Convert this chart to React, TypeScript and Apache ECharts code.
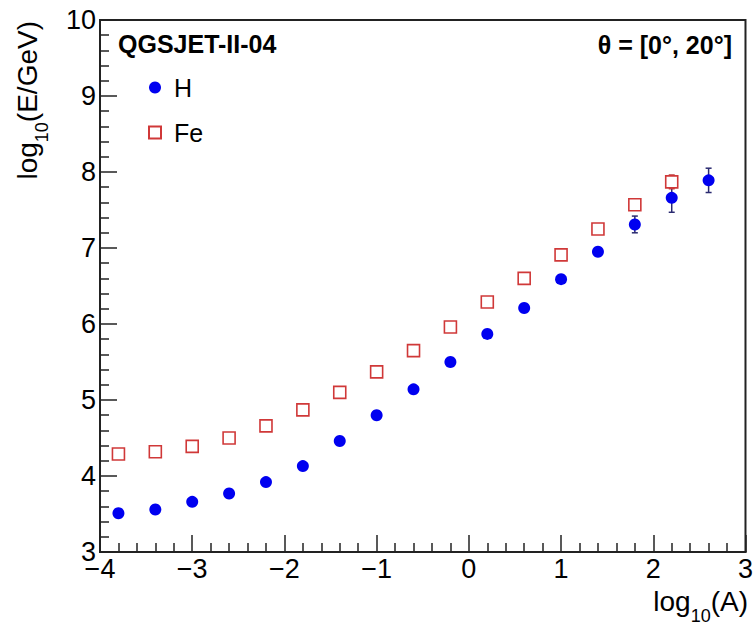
import React, { useEffect, useRef } from "react";
import * as echarts from "echarts";

const FONT = "'Liberation Sans', Arial, Helvetica, sans-serif";

// log10(A) positions of the points
const xValues = [-3.8, -3.4, -3.0, -2.6, -2.2, -1.8, -1.4, -1.0, -0.6, -0.2, 0.2, 0.6, 1.0, 1.4, 1.8, 2.2, 2.6];
// H (proton) series: log10(E/GeV)
const hValues = [3.51, 3.56, 3.66, 3.77, 3.92, 4.13, 4.46, 4.8, 5.14, 5.5, 5.87, 6.21, 6.59, 6.95, 7.31, 7.66, 7.89];
const hErrors = [0.01, 0.01, 0.01, 0.01, 0.01, 0.01, 0.01, 0.01, 0.01, 0.02, 0.02, 0.02, 0.03, 0.05, 0.11, 0.19, 0.16];
// Fe (iron) series
const feValues = [4.29, 4.32, 4.39, 4.5, 4.66, 4.87, 5.1, 5.37, 5.65, 5.96, 6.29, 6.6, 6.91, 7.25, 7.57, 7.87];
const feErrors = [0.01, 0.01, 0.01, 0.01, 0.01, 0.01, 0.01, 0.01, 0.01, 0.01, 0.01, 0.02, 0.02, 0.02, 0.04, 0.09];

const seriesNames = ["H", "Fe"];
const H_COLOR = "#0000f0";
const FE_COLOR = "#d03838";

function errorBarSeries(name: string, values: number[], errors: number[], color: string) {
  return {
    type: "custom",
    name,
    z: 1,
    silent: true,
    renderItem: (params: any, api: any) => {
      const x = api.value(0);
      const lo = api.coord([x, api.value(1)]);
      const hi = api.coord([x, api.value(2)]);
      const cap = 3;
      const style = { stroke: color, lineWidth: 1.5 };
      return {
        type: "group",
        children: [
          { type: "line", shape: { x1: lo[0], y1: lo[1], x2: hi[0], y2: hi[1] }, style },
          { type: "line", shape: { x1: lo[0] - cap, y1: lo[1], x2: lo[0] + cap, y2: lo[1] }, style },
          { type: "line", shape: { x1: hi[0] - cap, y1: hi[1], x2: hi[0] + cap, y2: hi[1] }, style },
        ],
      };
    },
    encode: { x: 0, y: [1, 2] },
    data: values.map((v, i) => [xValues[i], v - errors[i], v + errors[i]]),
  };
}

export default function App() {
  const ref = useRef<HTMLDivElement>(null);

  useEffect(() => {
    if (!ref.current) return;
    const chart = echarts.init(ref.current, undefined, { renderer: "svg" });

    const subRich = {
      a: { fontSize: 28, lineHeight: 48, fontFamily: FONT, fill: "#000" },
      s: { fontSize: 18, lineHeight: 18, fontFamily: FONT, fill: "#000", verticalAlign: "bottom" },
    };

    chart.setOption({
      animation: false,
      backgroundColor: "#fff",
      grid: {
        left: 100,
        top: 20,
        right: 8,
        bottom: 76,
        show: true,
        borderColor: "#222",
        borderWidth: 2,
        backgroundColor: "transparent",
      },
      xAxis: {
        type: "value",
        min: -4,
        max: 3,
        interval: 1,
        splitLine: { show: false },
        axisLine: { show: true, onZero: false, lineStyle: { color: "#222", width: 2 } },
        axisTick: { show: true, inside: true, length: 17, lineStyle: { color: "#222", width: 1.5 } },
        minorTick: { show: true, splitNumber: 5, length: 9, lineStyle: { color: "#222", width: 1.5 } },
        axisLabel: {
          fontSize: 27,
          lineHeight: 20,
          fontFamily: FONT,
          color: "#000",
          margin: 7,
          showMinLabel: true,
          showMaxLabel: true,
          formatter: (v: number) => String(v).replace("-", "\u2212"),
        },
      },
      yAxis: {
        type: "value",
        min: 3,
        max: 10,
        interval: 1,
        splitLine: { show: false },
        axisLine: { show: true, onZero: false, lineStyle: { color: "#222", width: 2 } },
        axisTick: { show: true, inside: true, length: 17, lineStyle: { color: "#222", width: 1.5 } },
        minorTick: { show: true, splitNumber: 5, length: 9, lineStyle: { color: "#222", width: 1.5 } },
        axisLabel: {
          fontSize: 27,
          lineHeight: 20,
          fontFamily: FONT,
          color: "#000",
          margin: 4,
          showMinLabel: true,
          showMaxLabel: true,
        },
      },
      legend: {
        data: seriesNames,
        orient: "vertical",
        left: 148,
        top: 75,
        padding: 0,
        itemWidth: 12,
        itemHeight: 12,
        itemGap: 20,
        textStyle: { fontSize: 25, lineHeight: 25, fontFamily: FONT, color: "#000", padding: [0, 0, 0, 8] },
      },
      series: [
        errorBarSeries("H error", hValues, hErrors, "#2a2a70"),
        errorBarSeries("Fe error", feValues, feErrors, "#b83030"),
        {
          type: "scatter",
          name: seriesNames[0],
          z: 3,
          symbol: "circle",
          symbolSize: 12,
          itemStyle: { color: H_COLOR, opacity: 1 },
          data: hValues.map((v, i) => [xValues[i], v]),
        },
        {
          type: "scatter",
          name: seriesNames[1],
          z: 3,
          symbol: "rect",
          symbolSize: 12,
          itemStyle: { color: "#ffffff", borderColor: FE_COLOR, borderWidth: 1.6, opacity: 1 },
          data: feValues.map((v, i) => [xValues[i], v]),
        },
      ],
      graphic: [
        {
          type: "text",
          x: 118,
          y: 44,
          z: 10,
          style: {
            text: "QGSJET-II-04",
            fontSize: 25,
            fontWeight: "bold",
            fontFamily: FONT,
            fill: "#000",
            align: "left",
            verticalAlign: "middle",
          },
        },
        {
          type: "text",
          x: 732,
          y: 45,
          z: 10,
          style: {
            text: "\u03b8 = [0\u00b0, 20\u00b0]",
            fontSize: 25,
            fontWeight: "bold",
            fontFamily: FONT,
            fill: "#000",
            align: "right",
            verticalAlign: "middle",
          },
        },
        {
          type: "text",
          x: 748,
          y: 601,
          z: 10,
          style: {
            text: "{a|log}{s|10}{a|(A)}",
            rich: subRich,
            align: "right",
            verticalAlign: "middle",
          },
        },
        {
          type: "text",
          x: 27,
          y: 21,
          rotation: Math.PI / 2,
          z: 10,
          style: {
            text: "{a|log}{s|10}{a|(E/GeV)}",
            rich: subRich,
            align: "right",
            verticalAlign: "middle",
          },
        },
      ],
    });

    return () => chart.dispose();
  }, []);

  return (
    <div
      ref={ref}
      style={{ position: "fixed", left: 0, top: 0, width: 756, height: 628, background: "#fff" }}
    />
  );
}
